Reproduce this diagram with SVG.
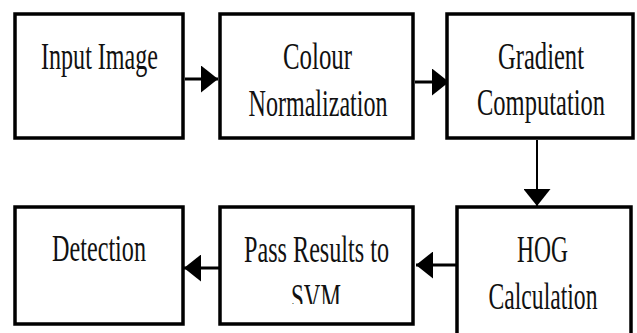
<svg xmlns="http://www.w3.org/2000/svg" width="637" height="333" viewBox="0 0 637 333">
  <style>
    .box { fill: #ffffff; stroke: #000000; stroke-width: 3.5; }
    .lbl { font-family: "Liberation Serif", "Times New Roman", serif; font-size: 38px; fill: #111111; text-anchor: middle; }
    .link { stroke: #000000; stroke-width: 3; fill: none; marker-end: url(#head); }
  </style>
  <defs>
    <marker id="head" markerUnits="userSpaceOnUse" markerWidth="17" markerHeight="27" refX="17" refY="13.5" orient="auto">
      <path d="M0,0 L17,13.5 L0,27 Z" fill="#000000"/>
    </marker>
    <clipPath id="svmClip">
      <rect x="220" y="207" width="193" height="97"/>
    </clipPath>
  </defs>
  <rect width="637" height="333" fill="#ffffff"/>

  <g id="connectors">
    <line class="link" x1="185" y1="79" x2="218" y2="79"/>
    <line class="link" x1="415" y1="82" x2="449" y2="82"/>
    <line class="link" x1="537" y1="140" x2="537" y2="206" style="stroke-width:2"/>
    <line class="link" x1="456" y1="265" x2="416" y2="265"/>
    <line class="link" x1="220" y1="268" x2="184" y2="268"/>
  </g>

  <!-- labels are set in a narrow serif: each line is squeezed horizontally -->
  <g id="input-image">
    <rect class="box" x="15" y="14" width="168" height="124"/>
    <g transform="translate(99.5,69) scale(0.635,1)"><text class="lbl" x="0" y="0" textLength="184.3" lengthAdjust="spacingAndGlyphs">Input Image</text></g>
  </g>

  <g id="colour-normalization">
    <rect class="box" x="220" y="14" width="193" height="124"/>
    <g transform="translate(317.5,69) scale(0.635,1)"><text class="lbl" x="0" y="0" textLength="108.7" lengthAdjust="spacingAndGlyphs">Colour</text></g>
    <g transform="translate(318,116) scale(0.635,1)"><text class="lbl" x="0" y="0" textLength="218.9" lengthAdjust="spacingAndGlyphs">Normalization</text></g>
  </g>

  <g id="gradient-computation">
    <rect class="box" x="447" y="14" width="186" height="124"/>
    <g transform="translate(541,69) scale(0.635,1)"><text class="lbl" x="0" y="0" textLength="135.4" lengthAdjust="spacingAndGlyphs">Gradient</text></g>
    <g transform="translate(541,115) scale(0.635,1)"><text class="lbl" x="0" y="0" textLength="201.6" lengthAdjust="spacingAndGlyphs">Computation</text></g>
  </g>

  <g id="detection">
    <rect class="box" x="15" y="207" width="168" height="117"/>
    <g transform="translate(99,261) scale(0.635,1)"><text class="lbl" x="0" y="0" textLength="148" lengthAdjust="spacingAndGlyphs">Detection</text></g>
  </g>

  <g id="pass-results-to-svm">
    <rect class="box" x="220" y="207" width="193" height="117"/>
    <g transform="translate(316.5,261.5) scale(0.635,1)"><text class="lbl" x="0" y="0" textLength="228.3" lengthAdjust="spacingAndGlyphs">Pass Results to</text></g>
    <g clip-path="url(#svmClip)">
      <g transform="translate(316,310) scale(0.635,1)"><text class="lbl" x="0" y="0" textLength="78.7" lengthAdjust="spacingAndGlyphs">SVM</text></g>
    </g>
  </g>

  <g id="hog-calculation">
    <rect class="box" x="457" y="207" width="174" height="132"/>
    <g transform="translate(542.5,261.5) scale(0.635,1)"><text class="lbl" x="0" y="0" textLength="80.3" lengthAdjust="spacingAndGlyphs">HOG</text></g>
    <g transform="translate(543,309) scale(0.635,1)"><text class="lbl" x="0" y="0" textLength="171.7" lengthAdjust="spacingAndGlyphs">Calculation</text></g>
  </g>
</svg>
